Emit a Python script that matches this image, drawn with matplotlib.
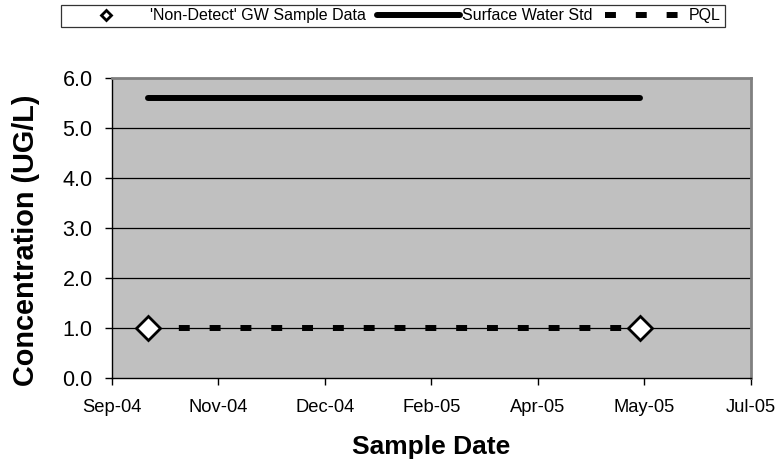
import numpy as np
import matplotlib
matplotlib.use("Agg")
import matplotlib.pyplot as plt
import matplotlib.dates as mdates

plt.rcParams['font.family'] = ['Liberation Sans', 'DejaVu Sans']

# data
sample_dates = np.array(['2004-10-07', '2005-05-26'], dtype='datetime64[D]')
gw_values = [1.0, 1.0]
surface_std = [5.6, 5.6]
pql = [1.0, 1.0]

# excel style date axis: 50 day major unit
axis_start = np.datetime64('2004-09-20')
axis_step = 50
n_ticks = 7
y_ticks = [0, 1, 2, 3, 4, 5, 6]

fig = plt.figure(figsize=(7.77, 4.63), dpi=100)
ax = fig.add_axes([0.1441, 0.1836, 0.8224, 0.648])
ax.set_facecolor('#C0C0C0')

tick_dates = [axis_start + np.timedelta64(axis_step * i, 'D') for i in range(n_ticks)]
tick_nums = mdates.date2num(tick_dates)

x = mdates.date2num(sample_dates)

for yv in y_ticks[1:-1]:
    ax.axhline(yv, color='black', lw=0.9, zorder=1)

sw_line, = ax.plot(x, surface_std, color='black', lw=4.3, solid_capstyle='round', zorder=3)
pql_line, = ax.plot(x, pql, color='black', lw=4.3, dash_capstyle='butt', zorder=3)
pql_line.set_dashes((1.83, 3.33))
gw_pts, = ax.plot(x, gw_values, linestyle='none', marker='D', markersize=12.5,
                  markerfacecolor='white', markeredgecolor='black', markeredgewidth=2, zorder=4)

ax.set_xlim(tick_nums[0], tick_nums[-1])
ax.set_ylim(0, 6)
ax.set_xticks(tick_nums)
ax.xaxis.set_major_formatter(mdates.DateFormatter('%b-%y'))
ax.set_yticks(y_ticks)
ax.set_yticklabels(['%.1f' % v for v in y_ticks])
ax.tick_params(axis='both', direction='out', length=5, width=1, color='black')
ax.tick_params(axis='x', pad=10, labelsize=13.2)
ax.tick_params(axis='y', pad=9, labelsize=15.5)

for side in ['top', 'right']:
    ax.spines[side].set_color('#808080')
    ax.spines[side].set_linewidth(2)
for side in ['left', 'bottom']:
    ax.spines[side].set_color('black')
    ax.spines[side].set_linewidth(1)

ax.set_xlabel('Sample Date', fontsize=19, fontweight='bold', labelpad=14)
ax.set_ylabel('Concentration (UG/L)', fontsize=20.8, fontweight='bold')
ax.yaxis.set_label_coords(-0.113, 0.46)

leg = fig.legend([gw_pts, sw_line, pql_line],
                 ["'Non-Detect' GW Sample Data", 'Surface Water Std', 'PQL'],
                 loc='upper center', bbox_to_anchor=(0.5058, 0.99), ncol=3,
                 fontsize=11.5, frameon=True, fancybox=False, markerscale=0.42,
                 handlelength=5.2, handletextpad=0.1, columnspacing=0.75,
                 borderpad=0.22, borderaxespad=0, numpoints=1)
leg.get_frame().set_edgecolor('black')
leg.get_frame().set_linewidth(0.9)

fig.savefig('out.png', dpi=100)
